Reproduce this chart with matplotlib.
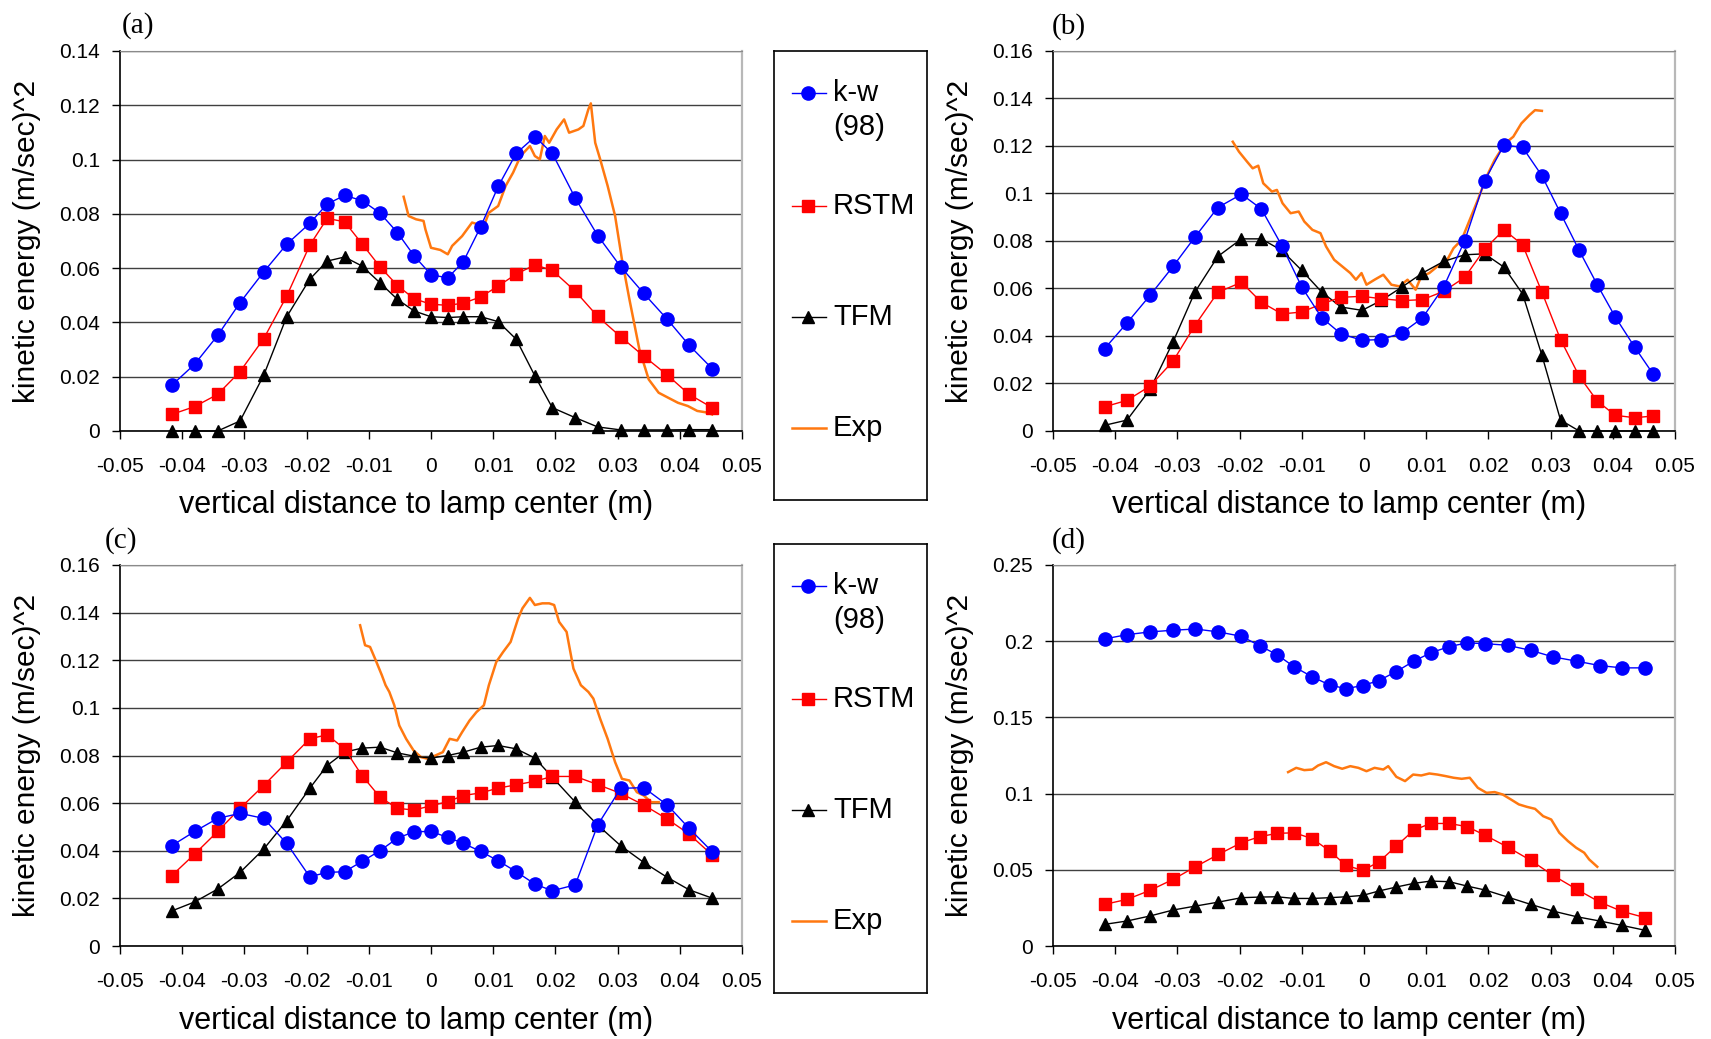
import numpy as np
import matplotlib
matplotlib.use("Agg")
import matplotlib.pyplot as plt
from matplotlib.ticker import FixedLocator, FuncFormatter

plt.rcParams['font.family'] = ['Liberation Sans', 'DejaVu Sans']

# ── data ──────────────────────────────────────────────────────────────────────
# x grids of the model points (m)
xa = [-0.0417, -0.0380, -0.0343, -0.0307, -0.0269, -0.0232, -0.0195, -0.0167,
      -0.0139, -0.0111, -0.0082, -0.0054, -0.0027, 0.0000, 0.0027, 0.0052,
      0.0080, 0.0108, 0.0137, 0.0167, 0.0195, 0.0232, 0.0268, 0.0305,
      0.0342, 0.0380, 0.0415, 0.0452]
xb = [-0.0417, -0.0381, -0.0344, -0.0307, -0.0272, -0.0235, -0.0197, -0.0165,
      -0.0132, -0.0100, -0.0068, -0.0037, -0.0003, 0.0028, 0.0061, 0.0094,
      0.0128, 0.0162, 0.0194, 0.0225, 0.0255, 0.0286, 0.0316, 0.0346,
      0.0375, 0.0404, 0.0435, 0.0465]
xd = [-0.0417, -0.0381, -0.0344, -0.0307, -0.0271, -0.0234, -0.0197, -0.0168,
      -0.0140, -0.0112, -0.0083, -0.0055, -0.0029, -0.0002, 0.0024, 0.0052,
      0.0080, 0.0107, 0.0137, 0.0166, 0.0195, 0.0231, 0.0268, 0.0304,
      0.0342, 0.0379, 0.0415, 0.0452]

# panel (a)
kw_a = [0.0168, 0.0246, 0.0352, 0.0473, 0.0586, 0.0688, 0.0765, 0.0836, 0.0868,
        0.0849, 0.0803, 0.0731, 0.0645, 0.0576, 0.0564, 0.0624, 0.0753, 0.0901,
        0.1023, 0.1084, 0.1023, 0.0858, 0.0720, 0.0605, 0.0507, 0.0411, 0.0316, 0.0230]
rstm_a = [0.0061, 0.0090, 0.0135, 0.0219, 0.0340, 0.0497, 0.0684, 0.0783, 0.0771,
          0.0690, 0.0605, 0.0536, 0.0487, 0.0467, 0.0463, 0.0471, 0.0494, 0.0534,
          0.0578, 0.0612, 0.0592, 0.0515, 0.0422, 0.0347, 0.0276, 0.0206, 0.0135, 0.0086]
tfm_a = [0.0, 0.0, 0.0, 0.0037, 0.0205, 0.0421, 0.0559, 0.0626, 0.0641, 0.0608,
         0.0546, 0.0485, 0.0442, 0.0421, 0.0418, 0.0421, 0.0421, 0.0403, 0.0338,
         0.0203, 0.0086, 0.0049, 0.0015, 0.0004, 0.0004, 0.0004, 0.0005, 0.0005]
exp_xa = [-0.0044, -0.0036, -0.0024, -0.0012, -0.0009, 0.0000, 0.0015, 0.0027,
          0.0034, 0.0050, 0.0066, 0.0085, 0.0093, 0.0108, 0.0120, 0.0132, 0.0144,
          0.0159, 0.0167, 0.0175, 0.0183, 0.0190, 0.0202, 0.0214, 0.0222, 0.0237,
          0.0245, 0.0253, 0.0257, 0.0264, 0.0272, 0.0284, 0.0296, 0.0307, 0.0319,
          0.0335, 0.0350, 0.0366, 0.0381, 0.0397, 0.0413, 0.0428, 0.0444, 0.0452]
exp_ya = [0.0863, 0.0792, 0.0780, 0.0774, 0.0743, 0.0675, 0.0667, 0.0651, 0.0682,
          0.0718, 0.0768, 0.0755, 0.0804, 0.0829, 0.0903, 0.0952, 0.1013, 0.1050,
          0.1013, 0.1001, 0.1087, 0.1062, 0.1111, 0.1148, 0.1099, 0.1111, 0.1124,
          0.1185, 0.1207, 0.1062, 0.1001, 0.0903, 0.0792, 0.0632, 0.0485, 0.0301,
          0.0190, 0.0141, 0.0123, 0.0104, 0.0092, 0.0074, 0.0068, 0.0061]

# panel (b)
kw_b = [0.0347, 0.0455, 0.0571, 0.0693, 0.0816, 0.0941, 0.0997, 0.0935, 0.0780,
        0.0606, 0.0477, 0.0409, 0.0382, 0.0385, 0.0413, 0.0476, 0.0606, 0.0802,
        0.1054, 0.1204, 0.1194, 0.1075, 0.0917, 0.0760, 0.0616, 0.0480, 0.0354, 0.0239]
rstm_b = [0.0102, 0.0129, 0.0189, 0.0294, 0.0444, 0.0584, 0.0626, 0.0542, 0.0493,
          0.0501, 0.0535, 0.0563, 0.0567, 0.0557, 0.0549, 0.0553, 0.0588, 0.0647,
          0.0766, 0.0847, 0.0784, 0.0585, 0.0385, 0.0231, 0.0126, 0.0066, 0.0056, 0.0063]
tfm_b = [0.0024, 0.0046, 0.0175, 0.0375, 0.0584, 0.0735, 0.0809, 0.0809, 0.0760,
         0.0676, 0.0585, 0.0522, 0.0508, 0.0550, 0.0606, 0.0665, 0.0714, 0.0742,
         0.0746, 0.0690, 0.0577, 0.0319, 0.0046, 0.0, 0.0, 0.0, 0.0, 0.0]
exp_xb = [-0.0211, -0.0201, -0.0188, -0.0179, -0.0170, -0.0162, -0.0148, -0.0140,
          -0.0131, -0.0118, -0.0105, -0.0096, -0.0083, -0.0070, -0.0061, -0.0048,
          -0.0035, -0.0022, -0.0013, -0.0004, 0.0004, 0.0017, 0.0031, 0.0044,
          0.0057, 0.0070, 0.0083, 0.0092, 0.0105, 0.0118, 0.0131, 0.0144, 0.0157,
          0.0170, 0.0183, 0.0197, 0.0210, 0.0227, 0.0240, 0.0253, 0.0266, 0.0275, 0.0286]
exp_yb = [0.1218, 0.1176, 0.1134, 0.1106, 0.1117, 0.1043, 0.1008, 0.1015, 0.0959,
          0.0917, 0.0924, 0.0882, 0.0847, 0.0833, 0.0777, 0.0721, 0.0693, 0.0665,
          0.0637, 0.0665, 0.0616, 0.0637, 0.0658, 0.0616, 0.0609, 0.0637, 0.0595,
          0.0651, 0.0665, 0.0693, 0.0707, 0.0770, 0.0805, 0.0889, 0.0973, 0.1071,
          0.1141, 0.1211, 0.1239, 0.1295, 0.1330, 0.1351, 0.1348]

# panel (c)
kw_c = [0.0421, 0.0481, 0.0536, 0.0557, 0.0536, 0.0431, 0.0291, 0.0309, 0.0312,
        0.0355, 0.0400, 0.0453, 0.0480, 0.0481, 0.0456, 0.0431, 0.0397, 0.0358,
        0.0312, 0.0260, 0.0232, 0.0257, 0.0508, 0.0662, 0.0665, 0.0592, 0.0494, 0.0396]
rstm_c = [0.0295, 0.0386, 0.0481, 0.0578, 0.0674, 0.0772, 0.0870, 0.0887, 0.0828,
          0.0716, 0.0625, 0.0578, 0.0571, 0.0589, 0.0606, 0.0632, 0.0643, 0.0663,
          0.0677, 0.0692, 0.0712, 0.0712, 0.0678, 0.0641, 0.0592, 0.0533, 0.0470, 0.0382]
tfm_c = [0.0147, 0.0185, 0.0239, 0.0309, 0.0407, 0.0526, 0.0662, 0.0758, 0.0814,
         0.0831, 0.0835, 0.0811, 0.0797, 0.0789, 0.0800, 0.0814, 0.0835, 0.0842,
         0.0828, 0.0789, 0.0709, 0.0604, 0.0508, 0.0421, 0.0351, 0.0288, 0.0236, 0.0201]
exp_xc = [-0.0114, -0.0106, -0.0098, -0.0090, -0.0079, -0.0073, -0.0067, -0.0059,
          -0.0051, -0.0040, -0.0028, -0.0016, -0.0005, 0.0007, 0.0019, 0.0030,
          0.0042, 0.0050, 0.0062, 0.0073, 0.0085, 0.0093, 0.0105, 0.0116, 0.0128,
          0.0140, 0.0147, 0.0159, 0.0167, 0.0179, 0.0190, 0.0198, 0.0206, 0.0218,
          0.0229, 0.0241, 0.0253, 0.0261, 0.0272, 0.0284, 0.0296, 0.0307, 0.0319,
          0.0331, 0.0342, 0.0354, 0.0366]
exp_yc = [0.1347, 0.1263, 0.1256, 0.1207, 0.1137, 0.1095, 0.1067, 0.1011, 0.0926,
          0.0870, 0.0821, 0.0793, 0.0786, 0.0800, 0.0814, 0.0870, 0.0863, 0.0898,
          0.0947, 0.0982, 0.1011, 0.1095, 0.1193, 0.1235, 0.1277, 0.1375, 0.1418,
          0.1462, 0.1432, 0.1439, 0.1439, 0.1432, 0.1361, 0.1319, 0.1165, 0.1095,
          0.1067, 0.1039, 0.0954, 0.0870, 0.0772, 0.0702, 0.0695, 0.0646, 0.0632,
          0.0604, 0.0604]

# panel (d)
kw_d = [0.2015, 0.2043, 0.2061, 0.2072, 0.2080, 0.2061, 0.2032, 0.1971, 0.1912,
        0.1831, 0.1766, 0.1712, 0.1689, 0.1709, 0.1742, 0.1801, 0.1869, 0.1923,
        0.1965, 0.1989, 0.1984, 0.1973, 0.1940, 0.1897, 0.1869, 0.1840, 0.1825, 0.1825]
rstm_d = [0.0273, 0.0306, 0.0365, 0.0437, 0.0520, 0.0601, 0.0678, 0.0717, 0.0739,
          0.0743, 0.0704, 0.0623, 0.0529, 0.0496, 0.0552, 0.0656, 0.0760, 0.0804,
          0.0804, 0.0783, 0.0726, 0.0649, 0.0562, 0.0463, 0.0372, 0.0288, 0.0227, 0.0186]
tfm_d = [0.0142, 0.0164, 0.0197, 0.0236, 0.0262, 0.0288, 0.0317, 0.0321, 0.0323,
         0.0312, 0.0312, 0.0317, 0.0323, 0.0332, 0.0361, 0.0387, 0.0411, 0.0426,
         0.0422, 0.0393, 0.0367, 0.0321, 0.0273, 0.0229, 0.0192, 0.0164, 0.0135, 0.0103]
exp_xd = [-0.0122, -0.0109, -0.0096, -0.0083, -0.0074, -0.0061, -0.0048, -0.0035,
          -0.0022, -0.0009, 0.0004, 0.0017, 0.0031, 0.0039, 0.0052, 0.0066, 0.0079,
          0.0092, 0.0105, 0.0118, 0.0131, 0.0144, 0.0157, 0.0170, 0.0183, 0.0197,
          0.0210, 0.0223, 0.0236, 0.0249, 0.0262, 0.0275, 0.0288, 0.0301, 0.0314,
          0.0328, 0.0341, 0.0354, 0.0362, 0.0375]
exp_yd = [0.1141, 0.1169, 0.1154, 0.1158, 0.1184, 0.1206, 0.1180, 0.1163, 0.1180,
          0.1169, 0.1147, 0.1169, 0.1158, 0.1180, 0.1110, 0.1082, 0.1125, 0.1119,
          0.1132, 0.1125, 0.1115, 0.1104, 0.1097, 0.1104, 0.1038, 0.1005, 0.1010,
          0.0994, 0.0962, 0.0929, 0.0913, 0.0900, 0.0852, 0.0830, 0.0743, 0.0688,
          0.0645, 0.0612, 0.0568, 0.0520]

x_ticks = [-0.05, -0.04, -0.03, -0.02, -0.01, 0.0, 0.01, 0.02, 0.03, 0.04, 0.05]
y_ticks_a = [0, 0.02, 0.04, 0.06, 0.08, 0.1, 0.12, 0.14]
y_ticks_bc = [0, 0.02, 0.04, 0.06, 0.08, 0.1, 0.12, 0.14, 0.16]
y_ticks_d = [0, 0.05, 0.1, 0.15, 0.2, 0.25]

legend_labels = ["k-w\n(98)", "RSTM", "TFM", "Exp"]
panel_labels = ["(a)", "(b)", "(c)", "(d)"]

# ── figure ────────────────────────────────────────────────────────────────────
W, H = 1711, 1039
fig = plt.figure(figsize=(W / 100, H / 100), dpi=100)

def px_axes(left, top, right, bottom):
    return fig.add_axes([left / W, 1 - bottom / H, (right - left) / W, (bottom - top) / H])

BLUE, RED, BLACK, ORANGE = '#0000FF', '#FF0000', '#000000', '#FF7810'
styles = [
    dict(color=BLUE, marker='o', ms=9.5, lw=1.0),
    dict(color=RED, marker='s', ms=9, lw=1.0),
    dict(color=BLACK, marker='^', ms=9, lw=1.0),
    dict(color=ORANGE, marker='', lw=1.8),
]

panels = [
    (px_axes(120, 51, 742, 431), xa, kw_a, rstm_a, tfm_a, exp_xa, exp_ya, y_ticks_a),
    (px_axes(1053, 51, 1675, 431), xb, kw_b, rstm_b, tfm_b, exp_xb, exp_yb, y_ticks_bc),
    (px_axes(120, 565, 742, 946), xa, kw_c, rstm_c, tfm_c, exp_xc, exp_yc, y_ticks_bc),
    (px_axes(1053, 565, 1675, 946), xd, kw_d, rstm_d, tfm_d, exp_xd, exp_yd, y_ticks_d),
]

fmt = FuncFormatter(lambda v, pos: f"{v:g}")

for ax, xs, kw, rs, tf, ex, ey, yt in panels:
    ax.plot(ex, ey, **styles[3], zorder=3)
    ax.plot(xs, tf, **styles[2], mec=BLACK, zorder=4, clip_on=False)
    ax.plot(xs, rs, **styles[1], mec=RED, zorder=5, clip_on=False)
    ax.plot(xs, kw, **styles[0], mec=BLUE, zorder=6, clip_on=False)

    ax.set_xlim(-0.05, 0.05)
    ax.set_ylim(yt[0], yt[-1])
    ax.xaxis.set_major_locator(FixedLocator(x_ticks))
    ax.yaxis.set_major_locator(FixedLocator(yt))
    ax.xaxis.set_major_formatter(fmt)
    ax.yaxis.set_major_formatter(fmt)
    ax.tick_params(axis='x', direction='out', length=6, width=1, pad=13, labelsize=15)
    ax.tick_params(axis='y', direction='out', length=6, width=1, pad=8.5, labelsize=15)
    ax.yaxis.grid(True, color='#404040', lw=1.0)
    ax.set_axisbelow(True)
    for s in ('left', 'bottom'):
        ax.spines[s].set_color('black')
        ax.spines[s].set_linewidth(1.2)
    ax.spines['top'].set_color('#8a8a8a')
    ax.spines['right'].set_color('#b8b8b8')
    ax.spines['right'].set_linewidth(1.6)

    ax.set_xlabel("vertical distance to lamp center (m)", fontsize=22)
    ax.xaxis.set_label_coords(0.476, -0.196)
    ax.xaxis.label.set_va('center')
    ax.set_ylabel("kinetic energy (m/sec)^2", fontsize=21.5)
    ax.yaxis.set_label_coords(-0.15, 0.5)
    ax.yaxis.label.set_va('center')

# panel letters
for lab, (px, py) in zip(panel_labels, [(138, 26), (1069, 27), (121, 541), (1069, 541)]):
    fig.text(px / W, 1 - py / H, lab, family='Liberation Serif', fontsize=21,
             ha='center', va='center')

# legend boxes
for top in (51, 544):
    lax = px_axes(774, top, 927, top + 449)
    lax.set_xlim(0, 153)
    lax.set_ylim(449, 0)
    lax.set_xticks([])
    lax.set_yticks([])
    for s in lax.spines.values():
        s.set_color('black')
        s.set_linewidth(1.2)
    for st, lab, yy in zip(styles, legend_labels, [42, 155, 266, 377]):
        lax.plot([18, 52], [yy, yy], color=st['color'], lw=st['lw'])
        if st['marker']:
            lax.plot([34], [yy], color=st['color'], marker=st['marker'], ms=st['ms'],
                     mec=st['color'], lw=0)
        for i, line in enumerate(lab.split("\n")):
            lax.text(59, yy + i * 34, line, fontsize=21, ha='left', va='center')

fig.savefig("out.png", dpi=100, facecolor='white')
